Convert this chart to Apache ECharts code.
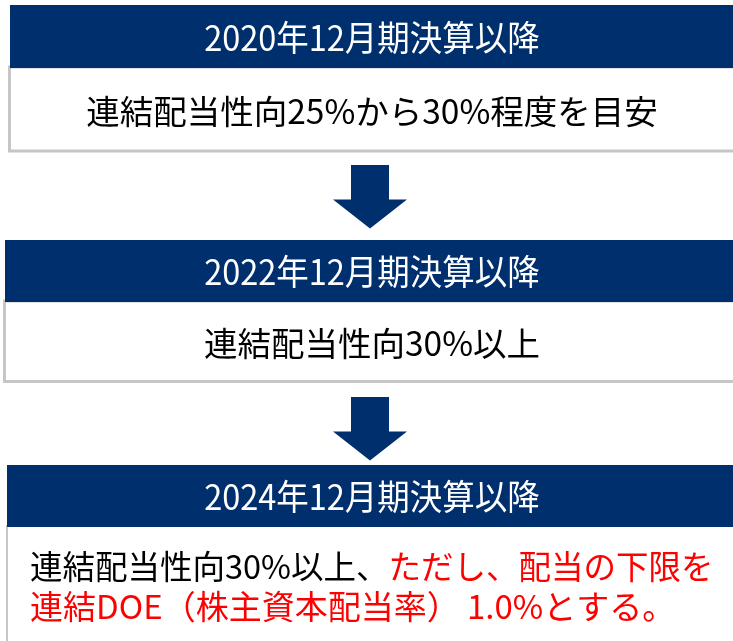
<!DOCTYPE html>
<html>
<head>
<meta charset="utf-8">
<script src="https://cdn.jsdelivr.net/npm/echarts@6/dist/echarts.min.js"></script>
<style>
  html, body { margin: 0; padding: 0; background: #fff; }
  #main { width: 733px; height: 641px; }
</style>
</head>
<body>
<div id="main"></div>
<script>
// 各期間の見出し
const periods = ['2020年12月期決算以降', '2022年12月期決算以降', '2024年12月期決算以降'];
// 本文（黒字部分）
const policies = ['連結配当性向25%から30%程度を目安', '連結配当性向30%以上', '連結配当性向30%以上、'];
// 本文（赤字の注記、最終段のみ）
const notes = ['', '', 'ただし、配当の下限を\n連結DOE（株主資本配当率） 1.0%とする。'];

const NAVY = '#002F6E';
const GREY = '#C6C6C6';
const FONT = '"Noto Sans CJK JP", "Noto Sans", sans-serif';

// レイアウト（ピクセル単位）
const layout = [
  { left: 10, top: 5, headH: 63, bodyBottom: 151, border: 3, arrowTop: null },
  { left: 5, top: 240, headH: 62, bodyBottom: 381.5, border: 3, arrowTop: 165 },
  { left: 7, top: 465, headH: 62, bodyBottom: 700, border: 2, arrowTop: 397 }
];

const myChart = echarts.init(document.getElementById('main'));

function renderStage(params, api) {
  const i = params.dataIndex;
  const L = layout[i];
  const p = (x, y) => api.coord([x, y]);
  const children = [];

  // 矢印
  if (L.arrowTop !== null) {
    const a = L.arrowTop;
    const pts = [
      [351, a], [389, a], [389, a + 34.5], [407, a + 34.5],
      [370, a + 63.5], [333, a + 34.5], [351, a + 34.5]
    ].map(q => p(q[0], q[1]));
    children.push({ type: 'polygon', shape: { points: pts }, style: { fill: NAVY } });
  }

  const tl = p(L.left, L.top);
  const hb = p(740, L.top + L.headH);
  // 本文の枠
  const bb = p(740, L.bodyBottom);
  children.push({
    type: 'rect',
    shape: { x: tl[0] - 0.5 + (L.border === 2 ? 0.5 : 0), y: hb[1] - 1, width: 760, height: bb[1] - hb[1] + 1 },
    style: { fill: '#fff', stroke: GREY, lineWidth: L.border }
  });
  // 見出し
  children.push({
    type: 'rect',
    shape: { x: tl[0], y: tl[1], width: hb[0] - tl[0], height: hb[1] - tl[1] },
    style: { fill: NAVY }
  });
  const hc = p(372, L.top + L.headH / 2 + 1);
  children.push({
    type: 'text',
    scaleY: 1.08,
    originX: hc[0], originY: hc[1],
    style: {
      text: periods[i], x: hc[0], y: hc[1], fill: '#fff',
      font: '32.5px ' + FONT, align: 'center', verticalAlign: 'middle'
    }
  });

  // 本文
  if (!notes[i]) {
    const bc = p(372, (L.top + L.headH + L.bodyBottom) / 2 + 2);
    children.push({
      type: 'text',
      style: {
        text: policies[i], x: bc[0], y: bc[1], fill: '#000',
        font: '33.5px ' + FONT, align: 'center', verticalAlign: 'middle'
      }
    });
  } else {
    const noteLines = notes[i].split('\n');
    const t1 = p(30, 567);
    const t2 = p(30, 606);
    children.push({
      type: 'text',
      style: {
        text: '{k|' + policies[i] + '}{r|' + noteLines[0] + '}',
        x: t1[0], y: t1[1], align: 'left', verticalAlign: 'middle',
        font: '32.5px ' + FONT,
        rich: {
          k: { fill: '#000', font: '32.5px ' + FONT },
          r: { fill: '#FF0000', font: '32.5px ' + FONT }
        }
      }
    });
    children.push({
      type: 'text',
      style: {
        text: noteLines[1], x: t2[0], y: t2[1], fill: '#FF0000',
        font: '33px ' + FONT, align: 'left', verticalAlign: 'middle'
      }
    });
  }

  return { type: 'group', children: children };
}

const option = {
  animation: false,
  grid: { left: 0, right: 0, top: 0, bottom: 0 },
  xAxis: { type: 'value', min: 0, max: 733, show: false },
  yAxis: { type: 'value', min: 0, max: 641, inverse: true, show: false },
  series: [
    {
      type: 'custom',
      clip: false,
      renderItem: renderStage,
      data: periods.map((_, i) => [0, i])
    }
  ]
};
myChart.setOption(option);
</script>
</body>
</html>
